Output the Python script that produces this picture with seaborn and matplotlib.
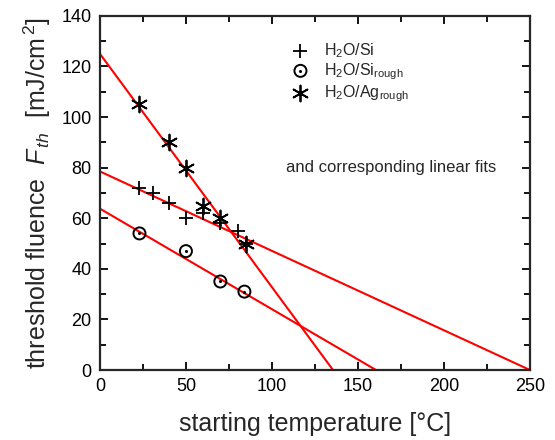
import numpy as np
import pandas as pd
import matplotlib
matplotlib.use("Agg")
import matplotlib.pyplot as plt
import seaborn as sns
from matplotlib.ticker import MultipleLocator

# measured points
si_x = [23, 31, 40, 50, 60, 70, 80, 85]
si_y = [72, 70, 66, 60, 62, 58, 55, 50]
sirough_x = [23, 50, 70, 84]
sirough_y = [54, 47, 35, 31]
ag_x = [23, 40, 50, 60, 70, 85]
ag_y = [105, 90, 80, 65, 60, 50]

# linear fits (end points)
si_fit_x = [0, 250]
si_fit_y = [78.5, 0]
sirough_fit_x = [0, 160.5]
sirough_fit_y = [63.8, 0]
ag_fit_x = [0, 135.5]
ag_fit_y = [125, 0]

sns.set_style("ticks")
plt.rcParams['font.family'] = ['Liberation Sans', 'DejaVu Sans']
plt.rcParams['mathtext.fontset'] = 'custom'
plt.rcParams['mathtext.rm'] = 'Liberation Sans'
plt.rcParams['mathtext.it'] = 'Liberation Sans:italic'

fig = plt.figure(figsize=(5.55, 4.4), dpi=100)
ax = fig.add_axes([0.18, 0.159, 0.775, 0.805])

# fits
for fx, fy in [(si_fit_x, si_fit_y), (sirough_fit_x, sirough_fit_y), (ag_fit_x, ag_fit_y)]:
    sns.lineplot(x=fx, y=fy, ax=ax, color='#ff0000', linewidth=1.5, zorder=2)

h_si = ax.scatter(si_x, si_y, marker='+', s=110, color='black', linewidths=1.3, zorder=3)
h_c = ax.scatter(sirough_x, sirough_y, marker='o', s=75, facecolors='none',
                 edgecolors='black', linewidths=1.4, zorder=3)
h_d = ax.scatter(sirough_x, sirough_y, marker='.', s=6, color='black', zorder=3)
h_ag = ax.scatter(ag_x, ag_y, marker=(6, 2, 0), s=130, color='black', linewidths=1.3, zorder=3)

ax.set_xlim(0, 250)
ax.set_ylim(0, 140)
ax.xaxis.set_major_locator(MultipleLocator(50))
ax.xaxis.set_minor_locator(MultipleLocator(25))
ax.yaxis.set_major_locator(MultipleLocator(20))
ax.yaxis.set_minor_locator(MultipleLocator(10))
ax.tick_params(which='both', direction='in', top=True, right=True, width=1.3,
               labelsize=13, colors='black')
ax.tick_params(which='major', length=6, pad=6)
ax.tick_params(which='minor', length=4)
for s in ax.spines.values():
    s.set_linewidth(1.6)
    s.set_visible(True)

ax.set_xlabel('starting temperature [°C]', fontsize=18, labelpad=12)
ax.set_ylabel(r'threshold fluence  $F_{\,th}$  [mJ/cm$^{\,2}$]', fontsize=18, labelpad=6)

leg = ax.legend([h_si, (h_c, h_d), h_ag],
                [r'H$_2$O/Si', r'H$_2$O/Si$_{\mathrm{rough}}$', r'H$_2$O/Ag$_{\mathrm{rough}}$'],
                loc='upper left', bbox_to_anchor=(0.405, 0.97), frameon=False,
                fontsize=11.5, handletextpad=0.7, labelspacing=0.1, handlelength=1.5)

ax.text(108, 80, 'and corresponding linear fits', fontsize=12, va='center', ha='left')

fig.savefig('out.png', dpi=100)
